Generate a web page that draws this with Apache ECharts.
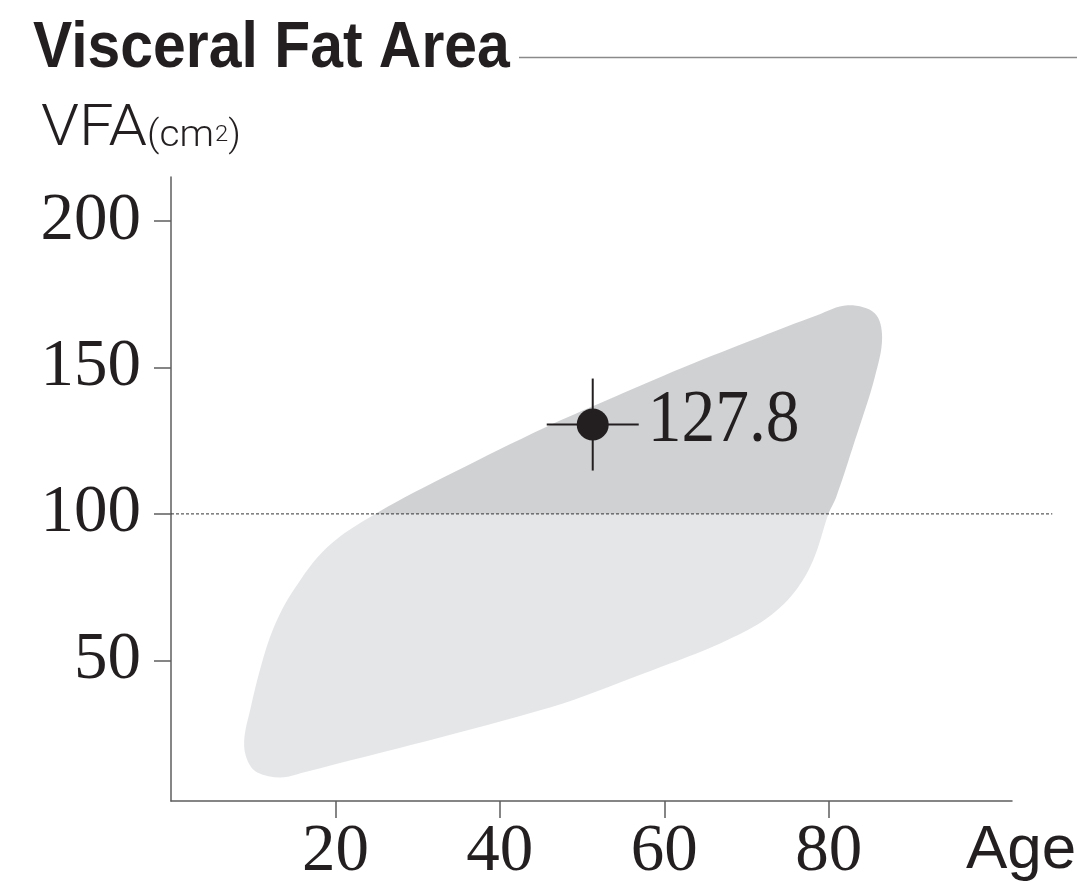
<!DOCTYPE html>
<html>
<head>
<meta charset="utf-8">
<script src="https://cdn.jsdelivr.net/npm/echarts@6/dist/echarts.min.js"></script>
<style>
html,body{margin:0;padding:0;background:#fff;}
#c{width:1077px;height:882px;}
</style>
</head>
<body>
<div id="c"></div>
<script>
// ---- data ----
const ageTicks = [20, 40, 60, 80];
const vfaTicks = [50, 100, 150, 200];
// outline of the reference band (age, VFA), traced clockwise
const bandAge = [13.3, 10.5, 9.3, 8.9, 9.7, 10.9, 12.5, 14.9, 19.0, 25.0, 34.4, 45.5, 53.0, 62.3, 71.6, 78.6, 82.3, 85.6, 86.5, 85.6, 83.2, 80.9, 80.0, 78.1, 75.7, 72.1, 66.8, 60.7, 57.5, 46.1, 16.1];
const bandVfa = [10.0, 11.7, 15.8, 22.6, 33.9, 47.6, 61.2, 73.9, 88.6, 100.2, 114.2, 129.5, 138.8, 150.0, 160.3, 167.8, 171.2, 168.5, 160.3, 146.6, 125.1, 105.6, 100.2, 84.1, 72.8, 63.6, 55.8, 48.9, 45.5, 33.9, 11.7];
const thresholdVfa = 100;
const thresholdAgeRange = [0, 107.2];
const subjectAge = [51.3];
const subjectVfa = [130.5];
const subjectLabel = ['127.8'];

const INK = '#231f20';
const DARK = '#d0d1d3';
const LIGHT = '#e5e6e8';

const bandData = bandAge.map((a, i) => [a, bandVfa[i]]);
const subjectData = subjectAge.map((a, i) => [a, subjectVfa[i], subjectLabel[i]]);

const chart = echarts.init(document.getElementById('c'));

const axisCommon = {
  type: 'value',
  splitLine: { show: false },
  axisLine: { show: true, lineStyle: { color: '#5e5e5e', width: 1.5 } },
};

const option = {
  animation: false,
  backgroundColor: '#fff',
  grid: { left: 171, right: 65, top: 177, bottom: 81, containLabel: false, outerBoundsMode: 'none' },
  xAxis: Object.assign({}, axisCommon, {
    min: 0, max: 102.3,
    axisTick: { show: true, length: 17, customValues: ageTicks, lineStyle: { color: '#5e5e5e', width: 1.5 } },
    axisLabel: { customValues: ageTicks, fontFamily: 'Liberation Serif', fontSize: 67, color: INK, margin: 18 }
  }),
  yAxis: Object.assign({}, axisCommon, {
    min: 2, max: 215,
    axisTick: { show: true, length: 17, customValues: vfaTicks, lineStyle: { color: '#5e5e5e', width: 1.5 } },
    axisLabel: { customValues: vfaTicks, fontFamily: 'Liberation Serif', fontSize: 67, color: INK, margin: 30 }
  }),
  graphic: [
    { type: 'text', x: 33, y: 17, scaleX: 0.92, style: { text: 'Visceral Fat Area', fontFamily: 'Liberation Sans', fontWeight: 'bold', fontSize: 64, fill: INK } },
    { type: 'line', shape: { x1: 519, y1: 57.5, x2: 1077, y2: 57.5 }, style: { stroke: '#8a8a8a', lineWidth: 1.5 } },
    { type: 'text', x: 41, y: 102, scaleX: 1.08, style: {
        text: '{v|VFA}{p|(cm}{s|2}{p|)}',
        rich: {
          v: { fontFamily: 'Roboto', fontWeight: 300, fontSize: 57, lineHeight: 57, fill: INK, verticalAlign: 'bottom' },
          p: { fontFamily: 'Roboto', fontWeight: 300, fontSize: 36, lineHeight: 36, fill: INK, verticalAlign: 'bottom', padding: [0, 0, 4, 0] },
          s: { fontFamily: 'Roboto', fontWeight: 300, fontSize: 22, lineHeight: 22, fill: INK, verticalAlign: 'bottom', padding: [0, 0, 13, 1] }
        }
    } },
    { type: 'text', x: 966, y: 820, style: { text: 'Age', fontFamily: 'Liberation Sans', fontSize: 62, fill: INK } }
  ],
  series: [
    {
      type: 'custom',
      name: 'band',
      data: bandData,
      silent: true,
      z: 1,
      renderItem: function (params, api) {
        if (params.dataIndex !== 0) return null;
        const pts = bandData.map(d => api.coord(d));
        const yT = api.coord([0, thresholdVfa])[1];
        const fill = new echarts.graphic.LinearGradient(0, yT - 5, 0, yT + 5, [
          { offset: 0, color: DARK }, { offset: 0.5, color: DARK },
          { offset: 0.5, color: LIGHT }, { offset: 1, color: LIGHT }
        ], true);
        return { type: 'polygon', shape: { points: pts, smooth: 0.35 }, style: { fill: fill, stroke: null } };
      }
    },
    {
      type: 'custom',
      name: 'threshold',
      data: [[thresholdAgeRange[0], thresholdVfa, thresholdAgeRange[1]]],
      silent: true,
      z: 2,
      renderItem: function (params, api) {
        const p1 = api.coord([api.value(0), api.value(1)]);
        const p2 = api.coord([api.value(2), api.value(1)]);
        return { type: 'line', shape: { x1: p1[0], y1: p1[1], x2: p2[0], y2: p2[1] },
          style: { stroke: '#333', lineWidth: 1, lineDash: [3, 2] } };
      }
    },
    {
      type: 'custom',
      name: 'subject',
      data: subjectData,
      silent: true,
      z: 3,
      renderItem: function (params, api) {
        const p = api.coord([api.value(0), api.value(1)]);
        const arm = 46;
        return {
          type: 'group',
          children: [
            { type: 'line', shape: { x1: p[0] - arm, y1: p[1], x2: p[0] + arm, y2: p[1] }, style: { stroke: INK, lineWidth: 2 } },
            { type: 'line', shape: { x1: p[0], y1: p[1] - arm, x2: p[0], y2: p[1] + arm }, style: { stroke: INK, lineWidth: 2 } },
            { type: 'circle', shape: { cx: p[0], cy: p[1], r: 16 }, style: { fill: INK } },
            { type: 'text', x: p[0] + 55, y: p[1] - 3, scaleX: 0.9, style: { text: subjectData[params.dataIndex][2], fontFamily: 'Liberation Serif', fontSize: 75, fill: INK, align: 'left', verticalAlign: 'middle' } }
          ]
        };
      }
    }
  ]
};
chart.setOption(option);
</script>
</body>
</html>
